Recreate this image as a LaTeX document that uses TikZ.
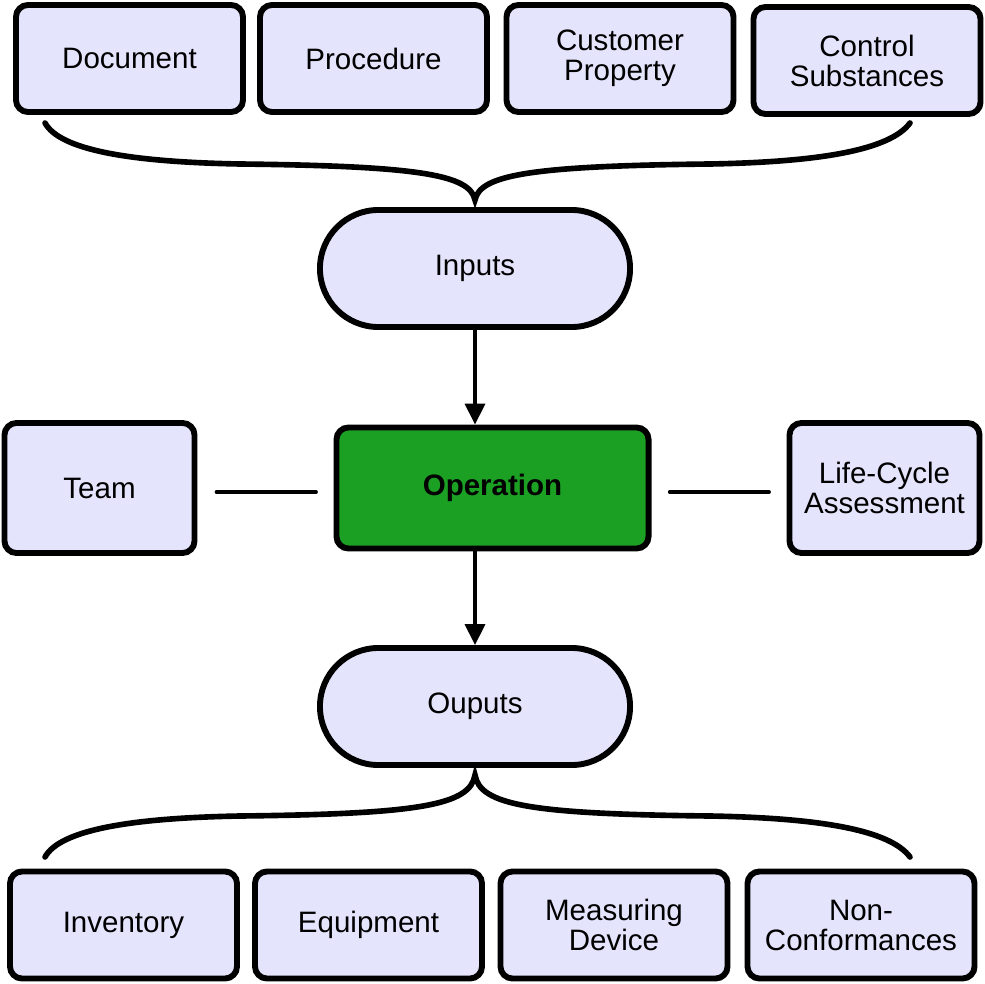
\documentclass[tikz,border=0pt]{standalone}
\usepackage{fontspec}
\setmainfont{Liberation Sans}
\usetikzlibrary{arrows.meta}
\definecolor{boxfill}{RGB}{228,228,252}
\definecolor{opgreen}{RGB}{28,160,36}

\begin{document}
\begin{tikzpicture}[x=0.025cm,y=-0.025cm,
  box/.style={draw,line width=4.2pt,rounded corners=0.3cm,fill=boxfill,inner sep=0pt,
    align=center,font=\fontsize{21}{21.3}\selectfont},
  topbox/.style={box,minimum width=5.675cm,minimum height=2.675cm},
  sidebox/.style={box,minimum width=4.75cm,minimum height=3.25cm},
  pill/.style={box,rounded corners=1.46cm,minimum width=7.75cm,minimum height=2.925cm},
  brace/.style={line width=4pt,line cap=round},
  link/.style={line width=2.2pt,line cap=round},
  arr/.style={link,-{Triangle[length=0.52cm,width=0.5cm]}}]
\useasboundingbox (0,0) rectangle (985,984);

% inputs
\node[topbox] (doc)  at (129.5,58.5) {Document};
\node[topbox] (proc) at (373.5,58.5) {Procedure};
\node[topbox] (cust) at (620,58.5)   {Customer\\Property};
\node[topbox] (ctrl) at (867,60.5)   {Control\\Substances};
\node[pill] (in) at (475,268.5) {Inputs};

% operation
\node[box,fill=opgreen,minimum width=7.8cm,minimum height=3.025cm,
  font=\fontsize{21}{21.3}\selectfont\bfseries] (op) at (492.5,488) {Operation};
\node[sidebox] (team) at (99.5,488)  {Team};
\node[sidebox] (lca)  at (884.5,488) {Life-Cycle\\Assessment};

% outputs
\node[pill] (out) at (475,706.5) {Ouputs};
\node[topbox] (inv)  at (123.5,925) {Inventory};
\node[topbox] (equ)  at (368.5,925) {Equipment};
\node[topbox] (meas) at (614,925)   {Measuring\\Device};
\node[topbox] (ncr)  at (861,925)   {Non-\\Conformances};

% braces
\coordinate (topL) at (45,123);
\coordinate (topR) at (910,123);
\coordinate (inTip) at (475,200);
\coordinate (botL) at (45,857);
\coordinate (botR) at (910,857);
\coordinate (outTip) at (475,775);
\draw[brace] (topL) .. controls (60,150) and (130,162) .. (240,164)
  .. controls (420,166) and (470,175) .. (inTip)
  .. controls (480,175) and (530,166) .. (710,164)
  .. controls (820,162) and (890,150) .. (topR);
\draw[brace] (botL) .. controls (60,830) and (130,818) .. (240,816)
  .. controls (420,814) and (470,805) .. (outTip)
  .. controls (480,805) and (530,814) .. (710,816)
  .. controls (820,818) and (890,830) .. (botR);

% connectors
\draw[arr] (in.south) -- (op.north -| in.south);
\draw[arr] (op.south -| in.south) -- (out.north);
\draw[link,shorten <=0.47cm,shorten >=0.43cm] ([yshift=-0.1cm]team.east) -- ([yshift=-0.1cm]op.west);
\draw[link,shorten <=0.45cm,shorten >=0.43cm] ([yshift=-0.1cm]op.east) -- ([yshift=-0.1cm]lca.west);
\end{tikzpicture}
\end{document}
